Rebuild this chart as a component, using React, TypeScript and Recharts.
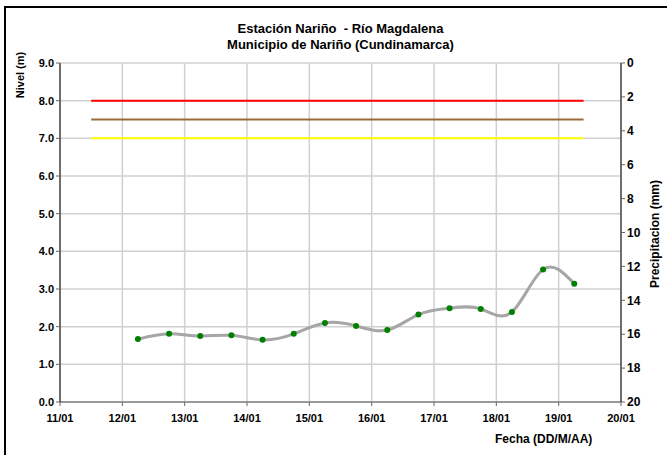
import React from "react";
import {
  ComposedChart,
  Line,
  XAxis,
  YAxis,
  CartesianGrid,
  ReferenceLine,
} from "recharts";

// fechas en días de enero (fracción = hora del día)
const fechas = [12.25, 12.75, 13.25, 13.75, 14.25, 14.75, 15.25, 15.75, 16.25, 16.75, 17.25, 17.75, 18.25, 18.75, 19.25];
const nivel = [1.67, 1.81, 1.75, 1.77, 1.65, 1.81, 2.1, 2.02, 1.91, 2.32, 2.49, 2.47, 2.39, 3.52, 3.14];
// sin registros de precipitación en el periodo
const precipitacion: (number | null)[] = fechas.map(() => null);

const diasTicks = [11, 12, 13, 14, 15, 16, 17, 18, 19, 20];
const nivelTicks = [0, 1, 2, 3, 4, 5, 6, 7, 8, 9];
const precipTicks = [0, 2, 4, 6, 8, 10, 12, 14, 16, 18, 20];

// umbrales de alerta
const umbrales = [
  { nivel: 8.0, color: "#ff0000" },
  { nivel: 7.5, color: "#9c6b3c" },
  { nivel: 7.0, color: "#ffff00" },
];
const umbralDesde = 11.5;
const umbralHasta = 19.4;

const data = fechas.map((f, i) => ({ fecha: f, nivel: nivel[i], precip: precipitacion[i] }));

const FONT = "'Liberation Sans', Arial, sans-serif";
const tickStyle = { fill: "#000", fontSize: 11, fontWeight: 700, fontFamily: FONT };

export default function App() {
  return (
    <div
      style={{
        position: "absolute",
        left: 0,
        top: 0,
        width: 667,
        height: 455,
        overflow: "hidden",
        background: "#fff",
        fontFamily: FONT,
      }}
    >
      <div
        style={{
          position: "absolute",
          left: 4,
          top: 6,
          width: 700,
          height: 500,
          borderLeft: "2px solid #000",
          borderTop: "2px solid #000",
        }}
      />
      <div
        style={{
          position: "absolute",
          left: 0,
          width: 681,
          top: 21,
          textAlign: "center",
          fontSize: 13,
          fontWeight: 700,
          lineHeight: "16px",
        }}
      >
        Estación Nariño &nbsp;- Río Magdalena
        <br />
        Municipio de Nariño (Cundinamarca)
      </div>
      <ComposedChart
        width={667}
        height={455}
        data={data}
        margin={{ top: 63, right: 6, bottom: 23, left: 20 }}
      >
        <CartesianGrid
          yAxisId="left"
          stroke="#d0d0d0"
          strokeWidth={1.5}
          horizontalValues={nivelTicks}
          verticalValues={diasTicks}
        />
        <XAxis
          dataKey="fecha"
          type="number"
          domain={[11, 20]}
          ticks={diasTicks}
          tickFormatter={(d: number) => `${d}/01`}
          tick={tickStyle}
          tickSize={4}
          tickMargin={8}
          height={30}
          stroke="#999"
          axisLine={{ stroke: "#999", strokeWidth: 2 }}
          tickLine={{ stroke: "#666" }}
        />
        <YAxis
          yAxisId="left"
          domain={[0, 9]}
          ticks={nivelTicks}
          tickFormatter={(v: number) => v.toFixed(1)}
          tick={tickStyle}
          tickSize={4}
          width={40}
          axisLine={{ stroke: "#000" }}
          tickLine={{ stroke: "#666" }}
        />
        <YAxis
          yAxisId="right"
          orientation="right"
          type="number"
          domain={[0, 20]}
          allowDataOverflow
          reversed
          ticks={precipTicks}
          tick={{ ...tickStyle, fontSize: 12 }}
          tickSize={4}
          width={40}
          axisLine={{ stroke: "#000" }}
          tickLine={{ stroke: "#666" }}
        />
        {umbrales.map((u) => (
          <ReferenceLine
            key={u.nivel}
            yAxisId="left"
            segment={[
              { x: umbralDesde, y: u.nivel },
              { x: umbralHasta, y: u.nivel },
            ]}
            stroke={u.color}
            strokeWidth={2}
          />
        ))}
        <Line
          yAxisId="right"
          dataKey="precip"
          stroke="#1f4e9c"
          dot={false}
          isAnimationActive={false}
        />
        <Line
          yAxisId="left"
          type="natural"
          dataKey="nivel"
          stroke="#a6a6a6"
          strokeWidth={3}
          dot={{ r: 3, fill: "#008000", stroke: "#008000", strokeWidth: 0 }}
          isAnimationActive={false}
        />
      </ComposedChart>
      <div
        style={{
          position: "absolute",
          left: 20,
          top: 75,
          transform: "translate(-50%, -50%) rotate(-90deg)",
          fontSize: 11,
          fontWeight: 700,
          whiteSpace: "nowrap",
        }}
      >
        Nivel (m)
      </div>
      <div
        style={{
          position: "absolute",
          left: 655,
          top: 234,
          transform: "translate(-50%, -50%) rotate(-90deg)",
          fontSize: 12,
          fontWeight: 700,
          whiteSpace: "nowrap",
        }}
      >
        Precipitacion (mm)
      </div>
      <div
        style={{
          position: "absolute",
          left: 495,
          top: 432,
          fontSize: 12,
          fontWeight: 700,
          whiteSpace: "nowrap",
        }}
      >
        Fecha (DD/M/AA)
      </div>
    </div>
  );
}
